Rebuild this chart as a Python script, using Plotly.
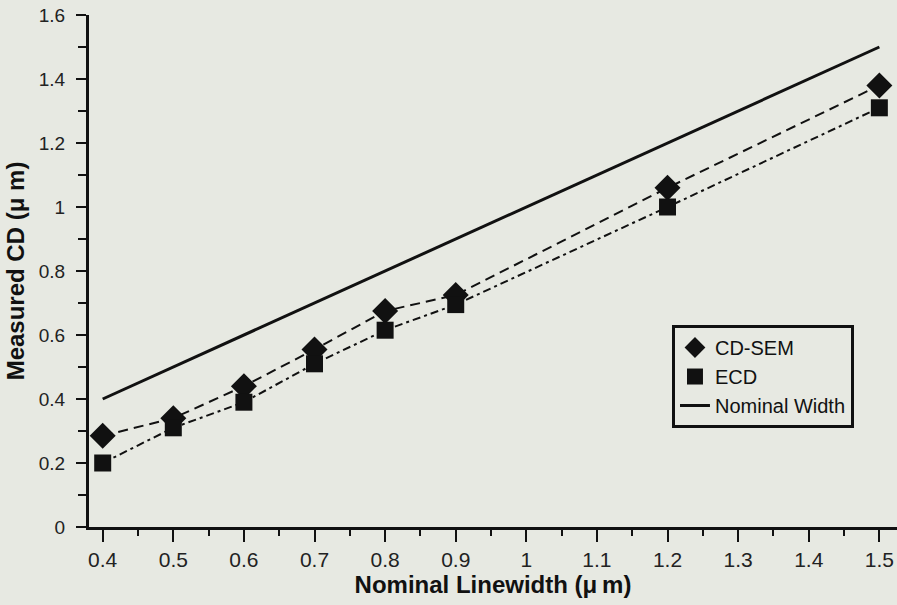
import plotly.graph_objects as go

# Nominal linewidth (um) and measured CD values
nominal = [0.4, 0.5, 0.6, 0.7, 0.8, 0.9, 1.2, 1.5]
cd_sem = [0.285, 0.34, 0.44, 0.555, 0.675, 0.725, 1.06, 1.38]
ecd = [0.20, 0.31, 0.39, 0.51, 0.615, 0.695, 1.0, 1.31]
nominal_width = [0.4, 1.5]
nominal_width_x = [0.4, 1.5]

x_ticks = [0.4, 0.5, 0.6, 0.7, 0.8, 0.9, 1.0, 1.1, 1.2, 1.3, 1.4, 1.5]
x_tick_text = ["0.4", "0.5", "0.6", "0.7", "0.8", "0.9", "1", "1.1", "1.2", "1.3", "1.4", "1.5"]
y_ticks = [0, 0.2, 0.4, 0.6, 0.8, 1.0, 1.2, 1.4, 1.6]
y_tick_text = ["0", "0.2", "0.4", "0.6", "0.8", "1", "1.2", "1.4", "1.6"]

BG = "#e7e9e2"
INK = "#111111"
FONT = "Liberation Sans, Arial, Helvetica, sans-serif"

fig = go.Figure()

# connecting lines (not shown in legend)
fig.add_trace(go.Scatter(
    x=nominal, y=cd_sem, mode="lines", showlegend=False, hoverinfo="skip",
    line=dict(color=INK, width=2, dash="10px,6px"),
))
fig.add_trace(go.Scatter(
    x=nominal, y=ecd, mode="lines", showlegend=False, hoverinfo="skip",
    line=dict(color=INK, width=2, dash="8px,4px,3px,4px"),
))

# markers
fig.add_trace(go.Scatter(
    x=nominal, y=cd_sem, mode="markers", name="CD-SEM",
    marker=dict(symbol="diamond", size=20, color=INK, line=dict(width=0)),
))
fig.add_trace(go.Scatter(
    x=nominal, y=ecd, mode="markers", name="ECD",
    marker=dict(symbol="square", size=17, color=INK, line=dict(width=0)),
))

# nominal width reference line
fig.add_trace(go.Scatter(
    x=nominal_width_x, y=nominal_width, mode="lines", name="Nominal Width",
    line=dict(color=INK, width=3),
))

fig.update_layout(
    width=897, height=605,
    margin=dict(l=89, r=0, t=15, b=78),
    paper_bgcolor=BG, plot_bgcolor=BG,
    font=dict(family=FONT, color=INK, size=20),
    legend=dict(
        x=0.7215, y=0.3945, xanchor="left", yanchor="top",
        bgcolor=BG, bordercolor=INK, borderwidth=3,
        font=dict(family=FONT, size=20, color=INK),
        tracegroupgap=0,
    ),
)
fig.update_xaxes(
    range=[0.3806, 1.525],
    tickmode="array", tickvals=x_ticks, ticktext=x_tick_text,
    ticks="outside", ticklen=12, tickwidth=2, tickcolor=INK,
    minor=dict(dtick=0.05, tick0=0.4, ticks="outside", ticklen=6, tickwidth=2, tickcolor=INK),
    showline=True, linecolor=INK, linewidth=3,
    showgrid=False, zeroline=False,
    tickfont=dict(family=FONT, size=21, color="#222222"),
    ticklabelstandoff=0,
    title=dict(text="<b>Nominal Linewidth (μ\u2009m)</b>", font=dict(size=24, color=INK), standoff=2),
)
fig.update_yaxes(
    range=[0, 1.6],
    tickmode="array", tickvals=y_ticks, ticktext=y_tick_text,
    ticks="outside", ticklen=10, tickwidth=2, tickcolor=INK,
    minor=dict(dtick=0.1, tick0=0, ticks="outside", ticklen=8, tickwidth=2, tickcolor=INK),
    showline=True, linecolor=INK, linewidth=3,
    showgrid=False, zeroline=False,
    tickfont=dict(family=FONT, size=19, color="#222222"),
    ticklabelstandoff=7,
    title=dict(text="<b>Measured CD (μ m)</b>", font=dict(size=24, color=INK), standoff=8),
)

fig.write_html("out.html")
